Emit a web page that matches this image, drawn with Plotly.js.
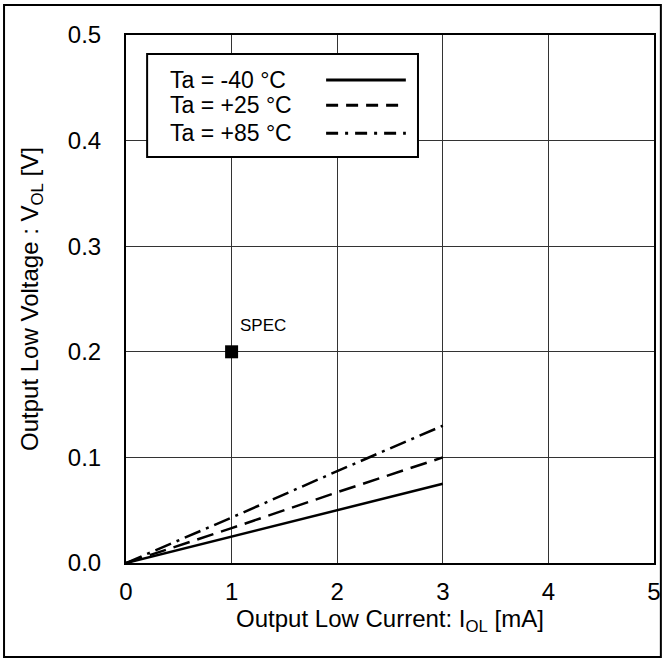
<!DOCTYPE html>
<html>
<head>
<meta charset="utf-8">
<script src="https://cdn.plot.ly/plotly-3.0.1.min.js"></script>
<style>html,body{margin:0;padding:0;background:#fff;}#chart{width:665px;height:662px;}</style>
</head>
<body>
<div id="chart"></div>
<script>
const currentMA = [0, 1, 2, 3];
const vol_m40 = [0, 0.025, 0.050, 0.075];
const vol_p25 = [0, 0.033, 0.067, 0.100];
const vol_p85 = [0, 0.043, 0.087, 0.130];
const seriesNames = ['Ta = -40 °C', 'Ta = +25 °C', 'Ta = +85 °C'];
const specX = [1];
const specY = [0.2];
const specLabel = 'SPEC';
const xTicks = [0, 1, 2, 3, 4, 5];
const yTicks = [0, 0.1, 0.2, 0.3, 0.4, 0.5];

const FONT = 'Liberation Sans, Arial, sans-serif';
const dashes = ['solid', '17px,8px', '17px,6px,3px,6px'];
const legDashes = ['solid', '12px,8px', '12px,7px,3px,7px'];
const ys = [vol_m40, vol_p25, vol_p85];

const traces = ys.map((y, i) => ({
  x: currentMA, y: y, type: 'scatter', mode: 'lines', name: seriesNames[i],
  line: {color: '#000', width: 2.5, dash: dashes[i]}, showlegend: false, hoverinfo: 'skip'
}));
traces.push({
  x: specX, y: specY, type: 'scatter', mode: 'markers', name: specLabel,
  marker: {symbol: 'square', size: 13, color: '#000'}, showlegend: false
});

const shapes = [
  {type: 'rect', xref: 'paper', yref: 'paper', x0: -0.231, x1: 1.013, y0: -0.178, y1: 1.057,
   line: {color: '#000', width: 2}, fillcolor: 'rgba(0,0,0,0)', layer: 'below'},
  {type: 'rect', xref: 'paper', yref: 'paper', x0: 0.040, x1: 0.553, y0: 0.769, y1: 0.964,
   line: {color: '#000', width: 2}, fillcolor: '#fff', layer: 'above'}
];
const legY = [0.915, 0.867, 0.814];
const annotations = [];
seriesNames.forEach((n, i) => {
  shapes.push({type: 'line', xref: 'paper', yref: 'paper', x0: 0.379, x1: 0.530, y0: legY[i], y1: legY[i],
    line: {color: '#000', width: 3, dash: legDashes[i]}, layer: 'above'});
  annotations.push({xref: 'paper', yref: 'paper', x: 0.080, y: legY[i], xanchor: 'left', yanchor: 'middle',
    text: n, showarrow: false, font: {family: FONT, size: 23, color: '#000'}});
});
annotations.push({x: specX[0] + 0.06, y: specY[0] + 0.025, xref: 'x', yref: 'y', xanchor: 'left', yanchor: 'middle',
  text: specLabel, showarrow: false, font: {family: FONT, size: 17, color: '#000'}});

const layout = {
  width: 665, height: 662,
  margin: {l: 126, r: 11, t: 35, b: 99, pad: 0},
  paper_bgcolor: '#fff', plot_bgcolor: '#fff',
  font: {family: FONT, size: 24, color: '#000'},
  xaxis: {
    range: [0, 5], tickvals: xTicks, ticktext: xTicks.map(String),
    showgrid: true, gridcolor: '#333', gridwidth: 1, zeroline: false,
    showline: true, linecolor: '#000', linewidth: 2, mirror: true, ticks: '', ticklen: 0,
    ticklabelstandoff: 6,
    tickfont: {family: FONT, size: 24, color: '#000'},
    title: {text: 'Output Low Current: I<sub>OL</sub> [mA]', font: {family: FONT, size: 24, color: '#000'}, standoff: 4}
  },
  yaxis: {
    range: [0, 0.5], tickvals: yTicks, ticktext: yTicks.map(v => v.toFixed(1)),
    showgrid: true, gridcolor: '#333', gridwidth: 1, zeroline: false,
    showline: true, linecolor: '#000', linewidth: 2, mirror: true, ticks: '', ticklen: 0,
    ticklabelstandoff: 18,
    tickfont: {family: FONT, size: 24, color: '#000'},
    title: {text: 'Output Low Voltage : V<sub>OL</sub> [V]', font: {family: FONT, size: 24, color: '#000'}, standoff: 22}
  },
  shapes: shapes, annotations: annotations, showlegend: false
};
Plotly.newPlot('chart', traces, layout, {staticPlot: true, displayModeBar: false});
</script>
</body>
</html>
